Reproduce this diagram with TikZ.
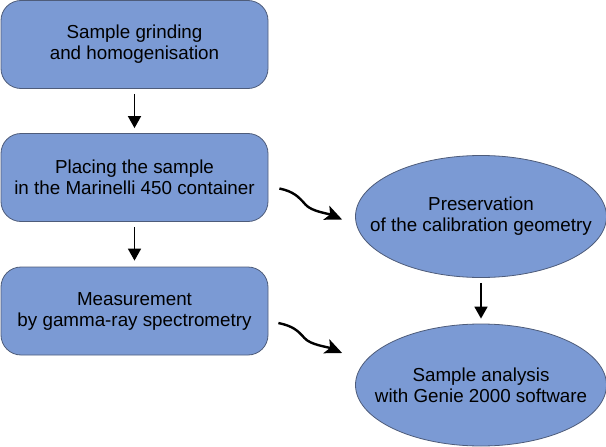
\documentclass[tikz,border=0pt]{standalone}
\usepackage{fontspec}
\setmainfont{Liberation Sans}
\usetikzlibrary{shapes.geometric,arrows.meta}
\definecolor{stepfill}{RGB}{123,154,212}
\definecolor{stepline}{RGB}{78,92,122}

\tikzset{
  stepbox/.style={draw=stepline,fill=stepfill,line width=0.8pt,rounded corners=20pt,
    minimum width=267pt,minimum height=88pt,align=center,inner sep=0pt},
  stepoval/.style={draw=stepline,fill=stepfill,line width=0.8pt,ellipse,
    minimum width=251pt,minimum height=122pt,inner sep=0pt},
  ovaltext/.style={label={[align=center]center:#1}},
  down/.style={line width=1.8pt,-{Triangle[length=12pt,width=13pt]}},
  wavy/.style={line width=2.4pt,-{Stealth[length=17pt,width=15pt,inset=4pt]}}
}

\begin{document}
\begin{tikzpicture}[x=1pt,y=-1pt,font=\fontsize{18.8}{21}\selectfont]
\useasboundingbox (0,0) rectangle (606,447);

% left column
\node[stepbox] (grind) at (134.5,44.5) {Sample grinding\\and homogenisation};
\node[stepbox] (place) at (134.5,177.5) {Placing the sample\\in the Marinelli 450 container};
\node[stepbox] (measure) at (134.5,311) {Measurement\\by gamma-ray spectrometry};

% right column
\node[stepoval,ovaltext={Preservation\\of the calibration geometry}] (preserve) at (481,216.5) {};
\node[stepoval,ovaltext={Sample analysis\\with Genie 2000 software}] (analysis) at (481,385) {};

\draw[down,shorten <=5pt,shorten >=5pt] (grind) -- (place);
\draw[down,shorten <=5pt,shorten >=6pt] (place) -- (measure);
\draw[down,shorten <=5pt,shorten >=5pt] (preserve) -- (analysis);

\draw[wavy] ([shift={(11,11)}]place.east) .. controls +(14,3) and +(-7,-8) .. +(26,16)
  .. controls +(6,7) and +(-14,-6) .. ([shift={(-13,3)}]preserve.west);
\draw[wavy] ([shift={(10,12)}]measure.east) .. controls +(14,3) and +(-7,-8) .. +(26,15)
  .. controls +(6,7) and +(-14,-6) .. ([shift={(-13,-32)}]analysis.west);

\end{tikzpicture}
\end{document}
